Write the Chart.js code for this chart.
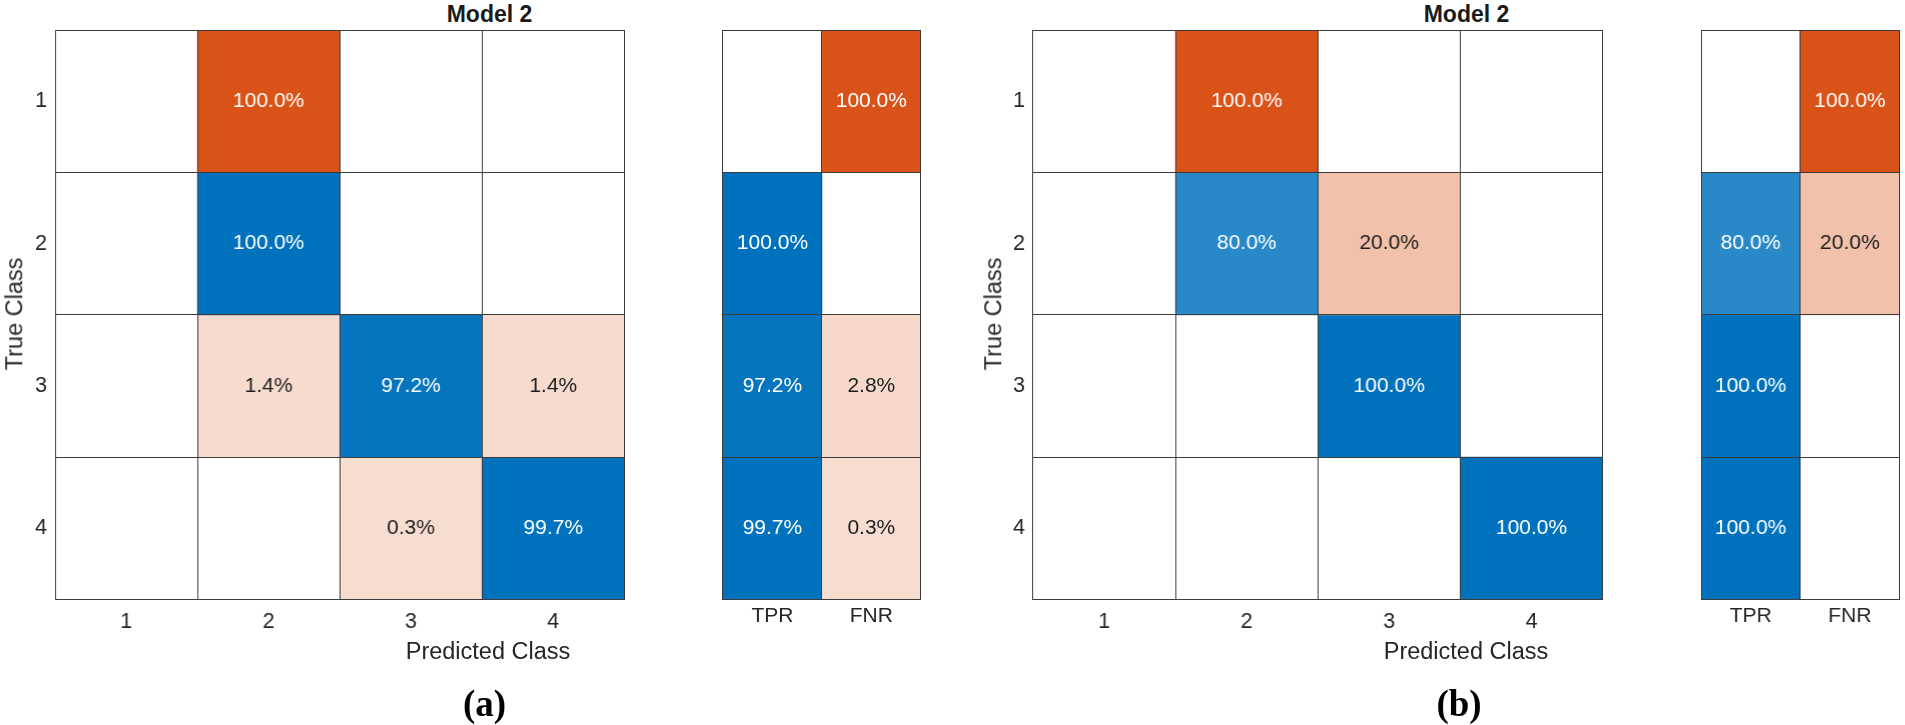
<!DOCTYPE html>
<html><head><meta charset="utf-8">
<script src="https://cdn.jsdelivr.net/npm/chart.js@4"></script>
<style>
html,body{margin:0;padding:0;background:#fff;width:1905px;height:725px;overflow:hidden;position:relative;font-family:'Liberation Sans',Arial,Helvetica,sans-serif;color:#262626}
.box{position:absolute}
.box canvas{display:block}
.lbl{position:absolute;transform:translate(-50%,-50%);white-space:nowrap;line-height:1}
.ttl{font-weight:bold;font-size:23px;color:#1a1a1a}
.axl{font-size:23.5px;color:#262626}
.cap{font-family:'Liberation Serif','Times New Roman',serif;font-weight:bold;font-size:37px;color:#000}
</style></head><body>

<div class="box" id="boxA"><canvas id="cA"></canvas></div>
<div class="box" id="boxAs"><canvas id="cAs"></canvas></div>
<div class="box" id="boxB"><canvas id="cB"></canvas></div>
<div class="box" id="boxBs"><canvas id="cBs"></canvas></div>

<div class="lbl ttl" style="left:489.5px;top:13.5px">Model 2</div>
<div class="lbl ttl" style="left:1466.5px;top:13.5px">Model 2</div>
<div class="lbl axl" style="left:488px;top:652px">Predicted Class</div>
<div class="lbl axl" style="left:1466px;top:652px">Predicted Class</div>
<div class="lbl axl" style="left:15px;top:314px;transform:translate(-50%,-50%) rotate(-90deg)">True Class</div>
<div class="lbl axl" style="left:994px;top:314px;transform:translate(-50%,-50%) rotate(-90deg)">True Class</div>
<div class="lbl cap" style="left:484.5px;top:703px">(a)</div>
<div class="lbl cap" style="left:1459px;top:703px">(b)</div>

<script>
// ---- data ----
const classes = ['1', '2', '3', '4'];
const summaryLabels = ['TPR', 'FNR'];

// Model 2, panel (a): row-normalised confusion matrix (%)
const cmA = [
  [0, 100, 0, 0],
  [0, 100, 0, 0],
  [0, 1.4, 97.2, 1.4],
  [0, 0, 0.3, 99.7]
];
const tprA = [0, 100, 97.2, 99.7];
const fnrA = [100, 0, 2.8, 0.3];

// Model 2, panel (b)
const cmB = [
  [0, 100, 0, 0],
  [0, 80, 20, 0],
  [0, 0, 100, 0],
  [0, 0, 0, 100]
];
const tprB = [0, 80, 100, 100];
const fnrB = [100, 20, 0, 0];

// ---- styling ----
const BLUE = [0, 114, 189];
const ORANGE = [217, 83, 25];
const GRID = '#3c3c3c';
const TICK = '#262626';
const FONT = "'Liberation Sans', Arial, Helvetica, sans-serif";

function shade(v, base) {
  if (!(v > 0)) return 'rgba(255,255,255,0)';
  const t = 0.2 + 0.8 * v / 100;
  const c = base.map(b => Math.round(255 - (255 - b) * t));
  return `rgb(${c[0]},${c[1]},${c[2]})`;
}
function textColor(v) {
  return (0.2 + 0.8 * v / 100) > 0.55 ? '#ffffff' : '#1e1e1e';
}

const cellText = {
  id: 'cellText',
  afterDraw(chart) {
    const ctx = chart.ctx;
    ctx.save();
    ctx.font = `21px ${FONT}`;
    ctx.textAlign = 'center';
    ctx.textBaseline = 'middle';
    chart.data.datasets.forEach((ds, di) => {
      const meta = chart.getDatasetMeta(di);
      meta.data.forEach((el, ci) => {
        const v = ds.cellValues[ci];
        if (v > 0) {
          ctx.fillStyle = textColor(v);
          ctx.fillText(v.toFixed(1) + '%', el.x, (el.y + el.base) / 2);
        }
      });
    });
    ctx.restore();
  }
};

function buildChart(canvasId, boxId, area, xLabels, rows, isBlue, cfg) {
  const padT = 2, padR = 2;
  const yW = cfg.yW, xH = cfg.xH;
  const box = document.getElementById(boxId);
  box.style.left = (area.l - yW) + 'px';
  box.style.top = (area.t - padT) + 'px';
  box.style.width = (area.r - area.l + yW + padR) + 'px';
  box.style.height = (area.b - area.t + padT + xH) + 'px';

  const nRows = rows.length;
  const datasets = rows.map((vals, r) => ({
    data: xLabels.map(() => [r + 0.5, r + 1.5]),
    cellValues: vals,
    backgroundColor: vals.map((v, c) => shade(v, isBlue(r, c) ? BLUE : ORANGE)),
    borderWidth: 0,
    barPercentage: 1,
    categoryPercentage: 1,
    grouped: false
  }));

  return new Chart(document.getElementById(canvasId), {
    type: 'bar',
    data: { labels: xLabels, datasets },
    options: {
      responsive: true,
      maintainAspectRatio: false,
      animation: false,
      events: [],
      layout: { padding: { top: padT, right: padR, left: 0, bottom: 0 } },
      plugins: { legend: { display: false }, tooltip: { enabled: false }, title: { display: false } },
      scales: {
        x: {
          type: 'category',
          offset: true,
          border: { display: false },
          grid: { offset: true, color: GRID, lineWidth: 1, drawTicks: false, z: 1 },
          ticks: { color: TICK, font: { family: FONT, size: cfg.xFont }, padding: cfg.xPad, maxRotation: 0 },
          afterFit(s) { s.height = xH; s.paddingLeft = 0; s.paddingRight = 0; }
        },
        y: {
          type: 'linear',
          min: 0.5,
          max: nRows + 0.5,
          reverse: true,
          border: { display: false },
          afterBuildTicks(s) {
            const t = [];
            for (let k = 0; k <= nRows * 2; k++) t.push({ value: 0.5 + k * 0.5 });
            s.ticks = t;
          },
          grid: {
            drawTicks: false,
            lineWidth: 1,
            z: 1,
            color: c => Number.isInteger(c.tick.value) ? 'rgba(0,0,0,0)' : GRID
          },
          ticks: {
            display: cfg.yTicks,
            color: TICK,
            font: { family: FONT, size: 21.5 },
            padding: 8,
            callback: v => Number.isInteger(v) ? classes[v - 1] : ''
          },
          afterFit(s) { s.width = yW; s.paddingTop = 0; s.paddingBottom = 0; }
        }
      }
    },
    plugins: [cellText]
  });
}

const matrixCfg = { yW: 55, xH: 60, xFont: 21.5, xPad: 10, yTicks: true };
const summaryCfg = { yW: 2, xH: 50, xFont: 21, xPad: 4, yTicks: false };

const diag = (r, c) => r === c;
const tprCol = (r, c) => c === 0;

buildChart('cA', 'boxA', { l: 55.3, t: 29.7, r: 623.7, b: 599.3 }, classes, cmA, diag, matrixCfg);
buildChart('cAs', 'boxAs', { l: 722.7, t: 29.7, r: 920.5, b: 599.3 }, summaryLabels,
  tprA.map((v, i) => [v, fnrA[i]]), tprCol, summaryCfg);
buildChart('cB', 'boxB', { l: 1033, t: 29.7, r: 1601.7, b: 599.3 }, classes, cmB, diag, matrixCfg);
buildChart('cBs', 'boxBs', { l: 1701, t: 29.7, r: 1898.5, b: 599.3 }, summaryLabels,
  tprB.map((v, i) => [v, fnrB[i]]), tprCol, summaryCfg);
</script>
</body></html>
